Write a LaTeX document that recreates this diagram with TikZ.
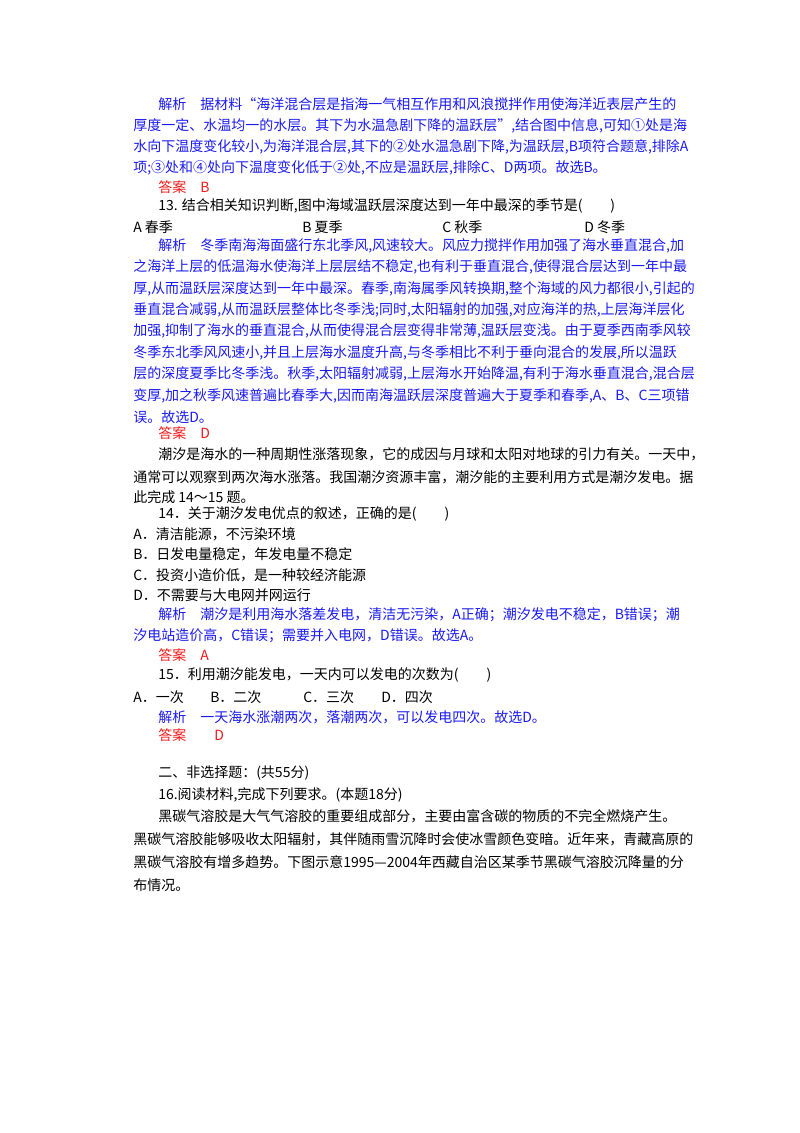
\documentclass[tikz,border=0pt]{standalone}
\usepackage{fontspec}
\usepackage{xcolor}
\newfontfamily\cjk{Noto Sans CJK SC}
\definecolor{anablue}{HTML}{1A1AF0}
\definecolor{ansred}{HTML}{F01A1A}
\tikzset{
  line/.style={anchor=west, inner sep=0pt, font=\cjk\fontsize{10.5pt}{12pt}\selectfont},
  ana/.style={line, text=anablue},
  ans/.style={line, text=ansred},
  txt/.style={line, text=black}
}
\begin{document}
\begin{tikzpicture}[x=0.75pt, y=-0.75pt]
	\useasboundingbox (0, 0) rectangle (800, 1133);

	% question 12, analysis
	\node[ana] (a1) at (158, 104) {解析\quad 据材料“海洋混合层是指海一气相互作用和风浪搅拌作用使海洋近表层产生的};
	\node[ana] (a2) at (133, 126) {厚度一定、水温均一的水层。其下为水温急剧下降的温跃层”,结合图中信息,可知①处是海};
	\node[ana] (a3) at (133, 147) {水向下温度变化较小,为海洋混合层,其下的②处水温急剧下降,为温跃层,B项符合题意,排除A};
	\node[ana] (a4) at (133, 168) {项;③处和④处向下温度变化低于②处,不应是温跃层,排除C、D两项。故选B。};
	\node[ans] (k1) at (158, 187) {答案\quad B};

	% question 13
	\node[txt] (q13) at (158, 206) {13. 结合相关知识判断,图中海域温跃层深度达到一年中最深的季节是(\qquad)};
	\node[txt] (o13a) at (133, 227) {A 春季};
	\node[txt] (o13b) at (302, 227) {B 夏季};
	\node[txt] (o13c) at (442, 227) {C 秋季};
	\node[txt] (o13d) at (584, 227) {D 冬季};

	\node[ana] (b1) at (158, 246) {解析\quad 冬季南海海面盛行东北季风,风速较大。风应力搅拌作用加强了海水垂直混合,加};
	\node[ana] (b2) at (133, 267) {之海洋上层的低温海水使海洋上层层结不稳定,也有利于垂直混合,使得混合层达到一年中最};
	\node[ana] (b3) at (133, 289) {厚,从而温跃层深度达到一年中最深。春季,南海属季风转换期,整个海域的风力都很小,引起的};
	\node[ana] (b4) at (133, 310) {垂直混合减弱,从而温跃层整体比冬季浅;同时,太阳辐射的加强,对应海洋的热,上层海洋层化};
	\node[ana] (b5) at (133, 331) {加强,抑制了海水的垂直混合,从而使得混合层变得非常薄,温跃层变浅。由于夏季西南季风较};
	\node[ana] (b6) at (133, 353) {冬季东北季风风速小,并且上层海水温度升高,与冬季相比不利于垂向混合的发展,所以温跃};
	\node[ana] (b7) at (133, 374) {层的深度夏季比冬季浅。秋季,太阳辐射减弱,上层海水开始降温,有利于海水垂直混合,混合层};
	\node[ana] (b8) at (133, 396) {变厚,加之秋季风速普遍比春季大,因而南海温跃层深度普遍大于夏季和春季,A、B、C三项错};
	\node[ana] (b9) at (133, 417) {误。故选D。};
	\node[ans] (k2) at (158, 433) {答案\quad D};

	% material for 14-15
	\node[txt] (m1) at (158, 454) {潮汐是海水的一种周期性涨落现象，它的成因与月球和太阳对地球的引力有关。一天中，};
	\node[txt] (m2) at (133, 477) {通常可以观察到两次海水涨落。我国潮汐资源丰富，潮汐能的主要利用方式是潮汐发电。据};
	\node[txt] (m3) at (133, 497) {此完成 14～15 题。};

	% question 14
	\node[txt] (q14) at (158, 514) {14．关于潮汐发电优点的叙述，正确的是(\qquad)};
	\node[txt] (o14a) at (133, 534) {A．清洁能源，不污染环境};
	\node[txt] (o14b) at (133, 554) {B．日发电量稳定，年发电量不稳定};
	\node[txt] (o14c) at (133, 575) {C．投资小造价低，是一种较经济能源};
	\node[txt] (o14d) at (133, 595) {D．不需要与大电网并网运行};
	\node[ana] (c1) at (158, 615) {解析\quad 潮汐是利用海水落差发电，清洁无污染，A正确；潮汐发电不稳定，B错误；潮};
	\node[ana] (c2) at (133, 636) {汐电站造价高，C错误；需要并入电网，D错误。故选A。};
	\node[ans] (k3) at (158, 655) {答案\quad A};

	% question 15
	\node[txt] (q15) at (158, 675) {15．利用潮汐能发电，一天内可以发电的次数为(\qquad)};
	\node[txt] (o15a) at (133, 697) {A．一次};
	\node[txt] (o15b) at (210, 697) {B．二次};
	\node[txt] (o15c) at (303, 697) {C．三次};
	\node[txt] (o15d) at (381, 697) {D．四次};
	\node[ana] (d1) at (158, 717) {解析\quad 一天海水涨潮两次，落潮两次，可以发电四次。故选D。};
	\node[ans] (k4) at (158, 735) {答案\qquad D};

	% part two
	\node[txt] (p2) at (158, 773) {二、非选择题：(共55分)};
	\node[txt] (q16) at (158, 795) {16.阅读材料,完成下列要求。(本题18分)};
	\node[txt] (n1) at (158, 816) {黑碳气溶胶是大气气溶胶的重要组成部分，主要由富含碳的物质的不完全燃烧产生。};
	\node[txt] (n2) at (133, 839) {黑碳气溶胶能够吸收太阳辐射，其伴随雨雪沉降时会使冰雪颜色变暗。近年来，青藏高原的};
	\node[txt] (n3) at (133, 862) {黑碳气溶胶有增多趋势。下图示意1995—2004年西藏自治区某季节黑碳气溶胶沉降量的分};
	\node[txt] (n4) at (133, 885) {布情况。};
\end{tikzpicture}
\end{document}
